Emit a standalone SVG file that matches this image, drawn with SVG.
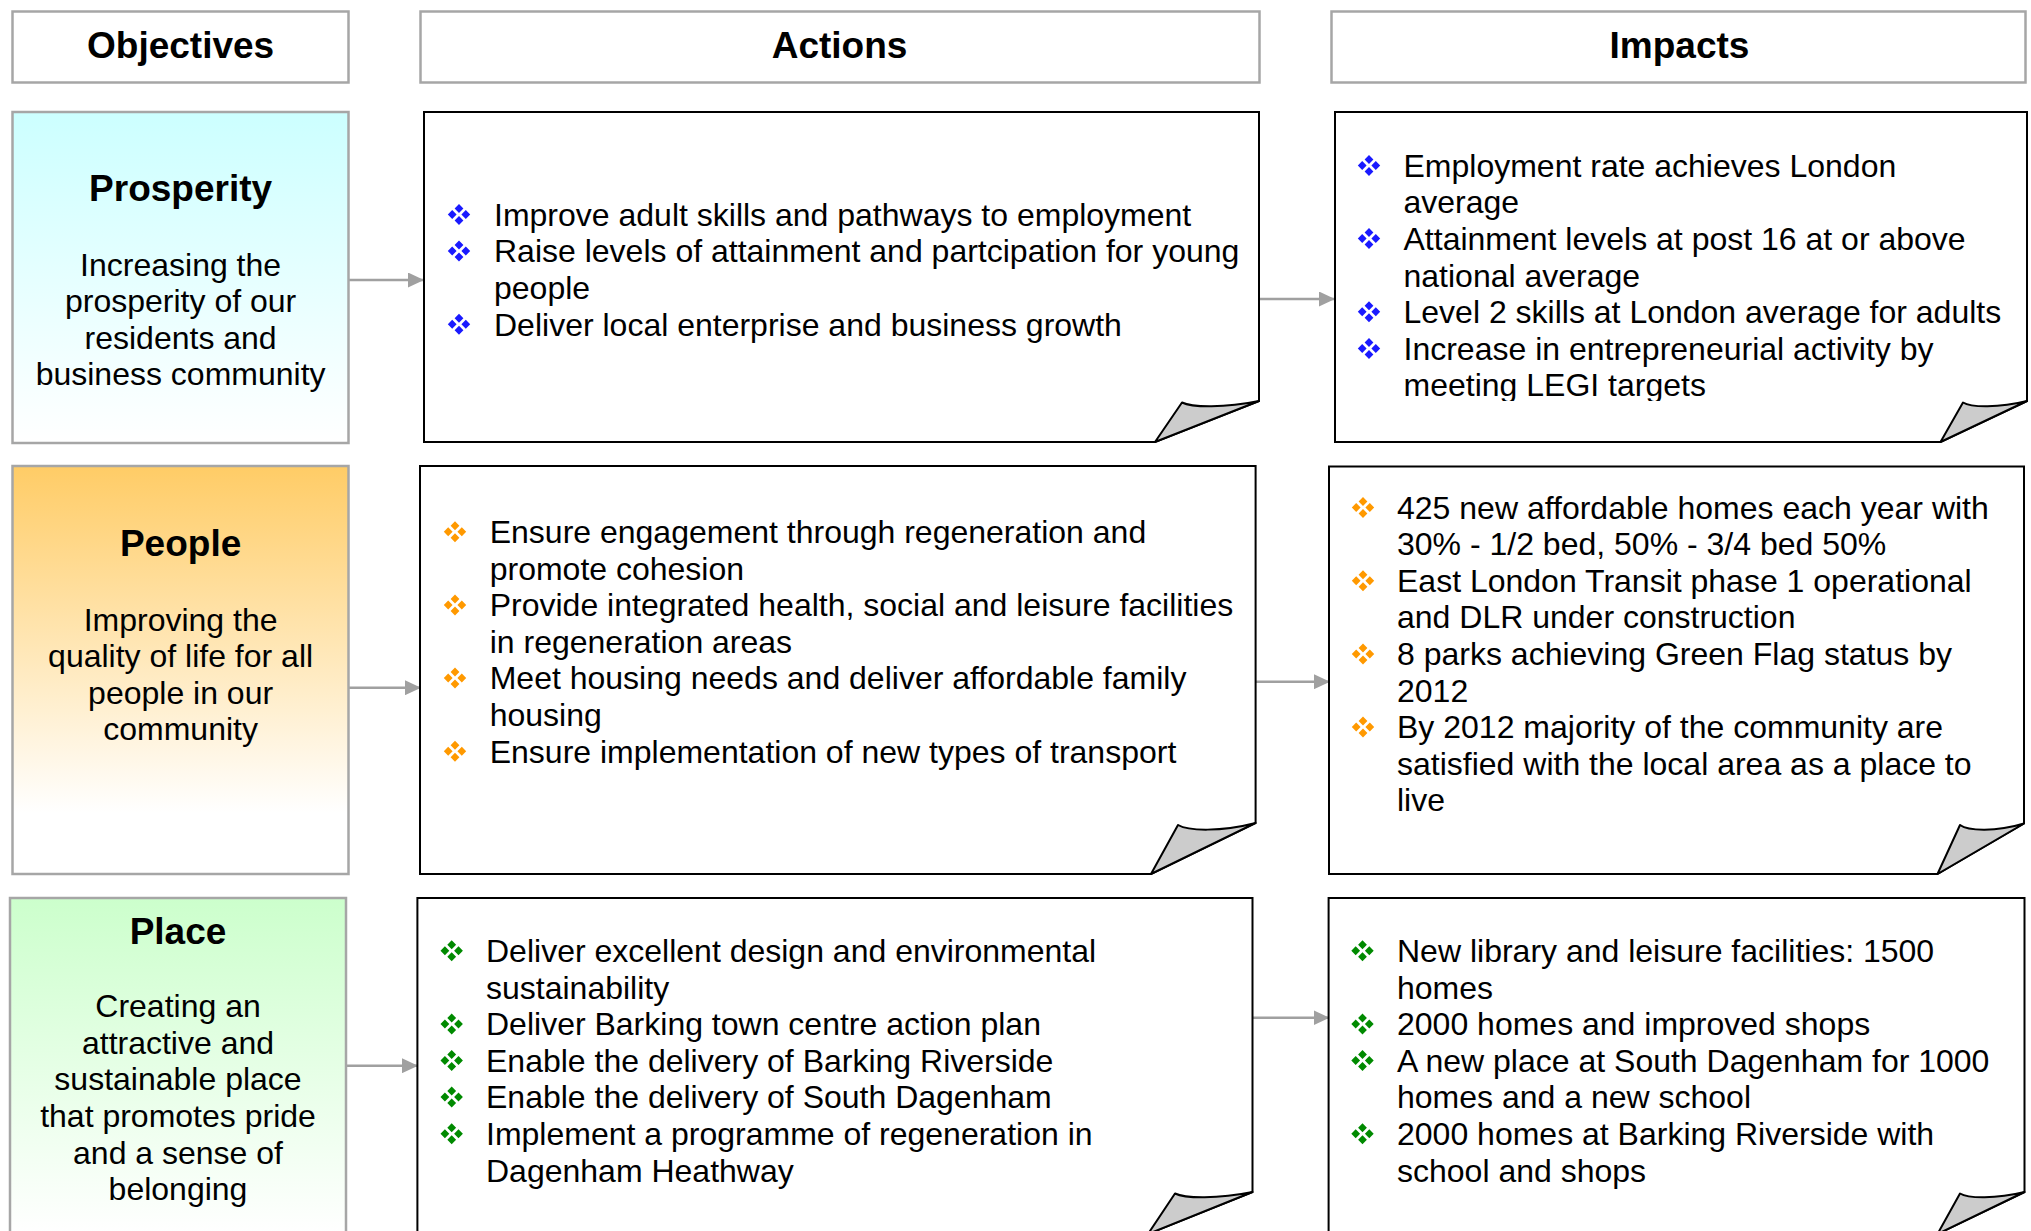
<svg xmlns="http://www.w3.org/2000/svg" xmlns:xlink="http://www.w3.org/1999/xlink" width="2031" height="1231" viewBox="0 0 2031 1231">
<style>
.t{font-family:"Liberation Sans",Arial,sans-serif;font-size:32px;fill:#000}
.h{font-family:"Liberation Sans",Arial,sans-serif;font-size:37px;font-weight:bold;fill:#000;text-anchor:middle}
.c{text-anchor:middle}
.hdr{fill:#fff;stroke:#a6a6a6;stroke-width:2.5}
.obj{stroke:#a6a6a6;stroke-width:2.5}
.box{fill:#fff;stroke:#000;stroke-width:2}
.fold{fill:#cccccc;stroke:#000;stroke-width:2;stroke-linejoin:round}
.con{stroke:#a0a0a0;stroke-width:2.5;fill:none;marker-end:url(#arr)}
</style>
<defs>
<marker id="arr" viewBox="0 0 16 15" refX="15" refY="7.5" markerWidth="16" markerHeight="15" markerUnits="userSpaceOnUse" orient="auto">
<path d="M0,0 L16,7.5 L0,15 Z" fill="#a0a0a0"/>
</marker>
<g id="bul">
<path d="M0,-10.5 L4.4,-6 L0,-1.5 L-4.4,-6 Z M0,1.5 L4.4,6 L0,10.5 L-4.4,6 Z M-6.8,-4.5 L-2.4,0 L-6.8,4.5 L-11.2,0 Z M6.8,-4.5 L11.2,0 L6.8,4.5 L2.4,0 Z"/>
</g>
<linearGradient id="gCyan" x1="0" y1="0" x2="0" y2="1"><stop offset="0" stop-color="#ccffff"/><stop offset="1" stop-color="#ffffff"/></linearGradient>
<linearGradient id="gOrange" x1="0" y1="0" x2="0" y2="1"><stop offset="0" stop-color="#ffcc66"/><stop offset="0.85" stop-color="#ffffff"/></linearGradient>
<linearGradient id="gGreen" x1="0" y1="0" x2="0" y2="1"><stop offset="0" stop-color="#ccffcc"/><stop offset="1" stop-color="#ffffff"/></linearGradient>
<clipPath id="clipImp1"><rect x="1336" y="113" width="690" height="288"/></clipPath>
</defs>

<g id="hdr-objectives"><rect class="hdr" x="12.5" y="11.5" width="336" height="71"/><text class="h" x="180.6" y="58">Objectives</text></g>
<g id="hdr-actions"><rect class="hdr" x="420.5" y="11.5" width="839" height="71"/><text class="h" x="839.5" y="58">Actions</text></g>
<g id="hdr-impacts"><rect class="hdr" x="1331.5" y="11.5" width="694" height="71"/><text class="h" x="1679.5" y="58">Impacts</text></g>

<g id="connectors">
<line class="con" x1="348.7" y1="280" x2="423" y2="280"/>
<line class="con" x1="1259" y1="299" x2="1334" y2="299"/>
<line class="con" x1="348.6" y1="687.7" x2="420" y2="687.7"/>
<line class="con" x1="1255.6" y1="681.7" x2="1329" y2="681.7"/>
<line class="con" x1="346" y1="1065.7" x2="417" y2="1065.7"/>
<line class="con" x1="1252.6" y1="1017.7" x2="1328.5" y2="1017.7"/>
</g>

<g id="obj-prosperity">
<rect class="obj" x="12.5" y="112" width="336" height="331" fill="url(#gCyan)"/>
<text class="h" x="180.6" y="200.5">Prosperity</text>
<text class="t c"><tspan x="180.6" y="275.5">Increasing the</tspan><tspan x="180.6" y="312.1">prosperity of our</tspan><tspan x="180.6" y="348.7">residents and</tspan><tspan x="180.6" y="385.3">business community</tspan></text>
</g>

<g id="obj-people">
<rect class="obj" x="12.5" y="466" width="336" height="408" fill="url(#gOrange)"/>
<text class="h" x="180.6" y="555.5">People</text>
<text class="t c"><tspan x="180.6" y="630.5">Improving the</tspan><tspan x="180.6" y="667.1">quality of life for all</tspan><tspan x="180.6" y="703.7">people in our</tspan><tspan x="180.6" y="740.3">community</tspan></text>
</g>

<g id="obj-place">
<rect class="obj" x="10" y="898" width="336" height="336" fill="url(#gGreen)"/>
<text class="h" x="178" y="943.5">Place</text>
<text class="t c"><tspan x="178" y="1017.2">Creating an</tspan><tspan x="178" y="1053.8">attractive and</tspan><tspan x="178" y="1090.4">sustainable place</tspan><tspan x="178" y="1127">that promotes pride</tspan><tspan x="178" y="1163.6">and a sense of</tspan><tspan x="178" y="1200.2">belonging</tspan></text>
</g>

<g id="act-prosperity">
<path class="box" d="M424,112 H1259 V401 L1155,442 H424 Z"/>
<path class="fold" d="M1155,442 L1182,402.5 C1192,407.5 1225,408 1259,401 Z"/>
<g fill="#1a1aff"><use xlink:href="#bul" x="459" y="214.5"/><use xlink:href="#bul" x="459" y="251"/><use xlink:href="#bul" x="459" y="324.3"/></g>
<text class="t"><tspan x="494" y="225.8">Improve adult skills and pathways to employment</tspan><tspan x="494" y="262.4">Raise levels of attainment and partcipation for young</tspan><tspan x="494" y="299">people</tspan><tspan x="494" y="335.6">Deliver local enterprise and business growth</tspan></text>
</g>

<g id="imp-prosperity">
<path class="box" d="M1335,112 H2027 V401 L1940.5,442 H1335 Z"/>
<path class="fold" d="M1940.5,442 L1963,402.5 C1971,407.5 1999,408 2027,401 Z"/>
<g fill="#1a1aff"><use xlink:href="#bul" x="1369" y="165.5"/><use xlink:href="#bul" x="1369" y="238.6"/><use xlink:href="#bul" x="1369" y="311.8"/><use xlink:href="#bul" x="1369" y="348.4"/></g>
<text class="t" clip-path="url(#clipImp1)"><tspan x="1403.5" y="176.8">Employment rate achieves London</tspan><tspan x="1403.5" y="213.4">average</tspan><tspan x="1403.5" y="250">Attainment levels at post 16 at or above</tspan><tspan x="1403.5" y="286.6">national average</tspan><tspan x="1403.5" y="323.2">Level 2 skills at London average for adults</tspan><tspan x="1403.5" y="359.8">Increase in entrepreneurial activity by</tspan><tspan x="1403.5" y="396.4">meeting LEGI targets</tspan></text>
</g>

<g id="act-people">
<path class="box" d="M420,466 H1255.6 V823 L1151,874 H420 Z"/>
<path class="fold" d="M1151,874 L1178,825 C1188,831 1221,832 1255.6,823 Z"/>
<g fill="#ff9900"><use xlink:href="#bul" x="455" y="531.7"/><use xlink:href="#bul" x="455" y="604.9"/><use xlink:href="#bul" x="455" y="678.1"/><use xlink:href="#bul" x="455" y="751.3"/></g>
<text class="t"><tspan x="489.7" y="542.9">Ensure engagement through regeneration and</tspan><tspan x="489.7" y="579.5">promote cohesion</tspan><tspan x="489.7" y="616.1">Provide integrated health, social and leisure facilities</tspan><tspan x="489.7" y="652.7">in regeneration areas</tspan><tspan x="489.7" y="689.3">Meet housing needs and deliver affordable family</tspan><tspan x="489.7" y="725.9">housing</tspan><tspan x="489.7" y="762.5">Ensure implementation of new types of transport</tspan></text>
</g>

<g id="imp-people">
<path class="box" d="M1329,466.5 H2024 V823.5 L1937.5,874 H1329 Z"/>
<path class="fold" d="M1937.5,874 L1960,825 C1968,831 1996,832 2024,823.5 Z"/>
<g fill="#ff9900"><use xlink:href="#bul" x="1363" y="507.5"/><use xlink:href="#bul" x="1363" y="580.7"/><use xlink:href="#bul" x="1363" y="653.9"/><use xlink:href="#bul" x="1363" y="727.1"/></g>
<text class="t"><tspan x="1397" y="518.5">425 new affordable homes each year with</tspan><tspan x="1397" y="555.1">30% - 1/2 bed, 50% - 3/4 bed 50%</tspan><tspan x="1397" y="591.7">East London Transit phase 1 operational</tspan><tspan x="1397" y="628.3">and DLR under construction</tspan><tspan x="1397" y="664.9">8 parks achieving Green Flag status by</tspan><tspan x="1397" y="701.5">2012</tspan><tspan x="1397" y="738.1">By 2012 majority of the community are</tspan><tspan x="1397" y="774.7">satisfied with the local area as a place to</tspan><tspan x="1397" y="811.3">live</tspan></text>
</g>

<g id="act-place">
<path class="box" d="M417.4,898 H1252.5 V1192 L1148,1234 H417.4 Z"/>
<path class="fold" d="M1148,1234 L1175,1193.5 C1185,1198.5 1218,1199 1252.5,1192 Z"/>
<g fill="#008a00"><use xlink:href="#bul" x="451.7" y="950.7"/><use xlink:href="#bul" x="451.7" y="1023.9"/><use xlink:href="#bul" x="451.7" y="1060.5"/><use xlink:href="#bul" x="451.7" y="1097.1"/><use xlink:href="#bul" x="451.7" y="1133.7"/></g>
<text class="t"><tspan x="486" y="962">Deliver excellent design and environmental</tspan><tspan x="486" y="998.6">sustainability</tspan><tspan x="486" y="1035.2">Deliver Barking town centre action plan</tspan><tspan x="486" y="1071.8">Enable the delivery of Barking Riverside</tspan><tspan x="486" y="1108.4">Enable the delivery of South Dagenham</tspan><tspan x="486" y="1145">Implement a programme of regeneration in</tspan><tspan x="486" y="1181.6">Dagenham Heathway</tspan></text>
</g>

<g id="imp-place">
<path class="box" d="M1328.6,898 H2024.5 V1192 L1937.5,1234 H1328.6 Z"/>
<path class="fold" d="M1937.5,1234 L1960,1193.5 C1968,1198.5 1996,1199 2024.5,1192 Z"/>
<g fill="#008a00"><use xlink:href="#bul" x="1362.5" y="950.7"/><use xlink:href="#bul" x="1362.5" y="1023.9"/><use xlink:href="#bul" x="1362.5" y="1060.5"/><use xlink:href="#bul" x="1362.5" y="1133.7"/></g>
<text class="t"><tspan x="1397" y="962">New library and leisure facilities: 1500</tspan><tspan x="1397" y="998.6">homes</tspan><tspan x="1397" y="1035.2">2000 homes and improved shops</tspan><tspan x="1397" y="1071.8">A new place at South Dagenham for 1000</tspan><tspan x="1397" y="1108.4">homes and a new school</tspan><tspan x="1397" y="1145">2000 homes at Barking Riverside with</tspan><tspan x="1397" y="1181.6">school and shops</tspan></text>
</g>
</svg>
